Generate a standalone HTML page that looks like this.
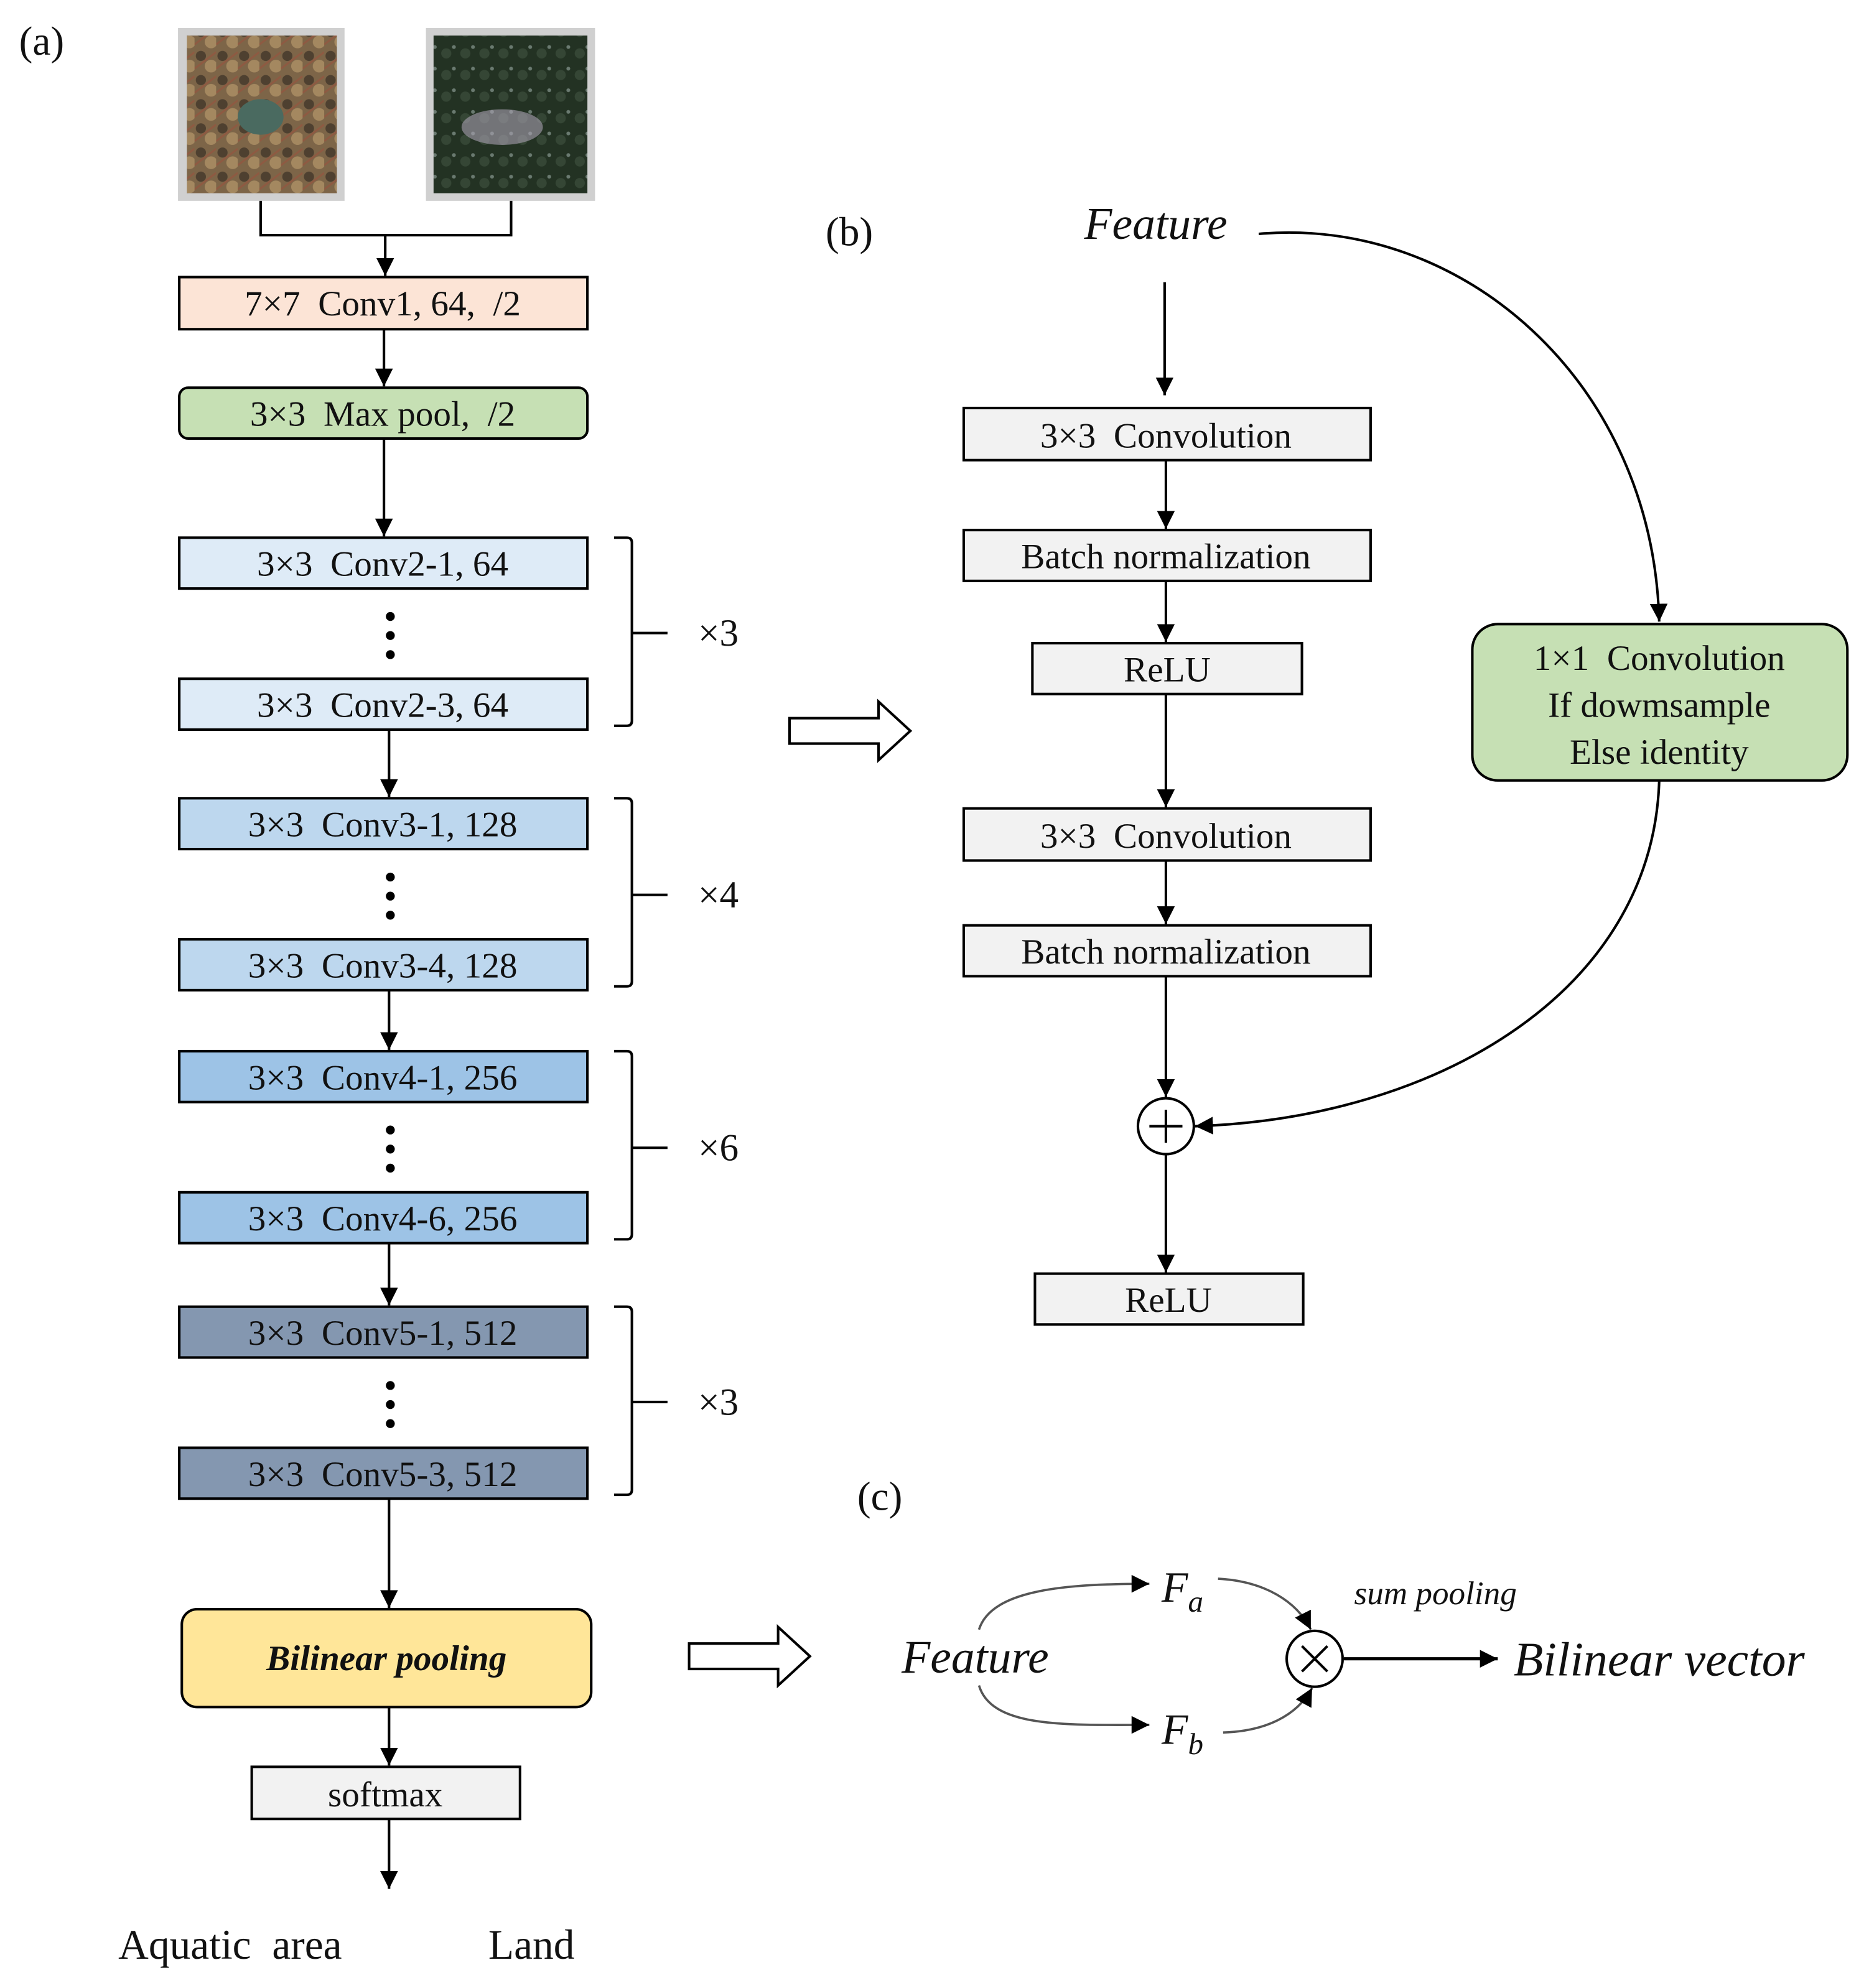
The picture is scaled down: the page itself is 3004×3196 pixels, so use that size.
<!DOCTYPE html>
<html><head><meta charset="utf-8"><style>
html,body{margin:0;padding:0;background:#fff;}
svg{display:block;}
text{font-family:"Liberation Serif",serif;fill:#111;white-space:pre;}
</style></head><body>
<svg width="3004" height="3196" viewBox="0 0 1470 1564" preserveAspectRatio="none" xmlns="http://www.w3.org/2000/svg">
<defs>
<marker id="a2" viewBox="0 0 10 10" refX="10" refY="5" markerWidth="14" markerHeight="14" markerUnits="userSpaceOnUse" orient="auto"><path d="M0,0 L10,5 L0,10 z" fill="#000"/></marker>
<pattern id="p1" width="17" height="19" patternUnits="userSpaceOnUse"><rect width="17" height="19" fill="#7d6548"/><circle cx="5" cy="6" r="4" fill="#4e4030"/><circle cx="13" cy="14" r="5" fill="#a48860"/><path d="M0,16 L17,3" stroke="#8e5a42" stroke-width="1.5"/></pattern>
<pattern id="p2" width="15" height="17" patternUnits="userSpaceOnUse"><rect width="15" height="17" fill="#233223"/><circle cx="6" cy="8" r="4" fill="#354635"/><circle cx="12" cy="3" r="1.5" fill="#6a7a70"/></pattern>
</defs>
<g stroke="#000" stroke-width="2" fill="none">
<rect x="140" y="22" width="131" height="136" fill="#d0d0d0" stroke="none"/>
<rect x="147" y="28" width="118" height="124" fill="url(#p1)" stroke="none"/>
<ellipse cx="205" cy="92" rx="18" ry="14" fill="#4a6a60" stroke="none"/>
<rect x="335" y="22" width="133" height="136" fill="#d0d0d0" stroke="none"/>
<rect x="341" y="28" width="121" height="124" fill="url(#p2)" stroke="none"/>
<ellipse cx="395" cy="100" rx="32" ry="14" fill="#a8a0b0" stroke="none" opacity="0.6"/>
<polyline points="205,158 205,185 402,185 402,158"/>
<line x1="303" y1="185" x2="303" y2="217" marker-end="url(#a2)"/>
<rect x="141" y="218" width="321" height="41" fill="#fce4d6"/>
<line x1="302" y1="259" x2="302" y2="304" marker-end="url(#a2)"/>
<rect x="141" y="305" width="321" height="40" rx="7" fill="#c6e0b4"/>
<line x1="302" y1="345" x2="302" y2="422" marker-end="url(#a2)"/>
<rect x="141" y="423" width="321" height="40" fill="#deebf7"/>
<rect x="141" y="534" width="321" height="40" fill="#deebf7"/>
<line x1="306" y1="574" x2="306" y2="627" marker-end="url(#a2)"/>
<rect x="141" y="628" width="321" height="40" fill="#bdd7ee"/>
<rect x="141" y="739" width="321" height="40" fill="#bdd7ee"/>
<line x1="306" y1="779" x2="306" y2="826" marker-end="url(#a2)"/>
<rect x="141" y="827" width="321" height="40" fill="#9dc3e6"/>
<rect x="141" y="938" width="321" height="40" fill="#9dc3e6"/>
<line x1="306" y1="978" x2="306" y2="1027" marker-end="url(#a2)"/>
<rect x="141" y="1028" width="321" height="40" fill="#8497b0"/>
<rect x="141" y="1139" width="321" height="40" fill="#8497b0"/>
<line x1="306" y1="1179" x2="306" y2="1265" marker-end="url(#a2)"/>
<rect x="143" y="1266" width="322" height="77" rx="12" fill="#ffe699"/>
<line x1="306" y1="1343" x2="306" y2="1389" marker-end="url(#a2)"/>
<rect x="198" y="1390" width="211" height="41" fill="#f2f2f2"/>
<line x1="306" y1="1431" x2="306" y2="1486" marker-end="url(#a2)"/>
<path d="M483,423 h10 q4,0 4,4 v140 q0,4 -4,4 h-10 M497,498 h28"/>
<path d="M483,628 h10 q4,0 4,4 v140 q0,4 -4,4 h-10 M497,704 h28"/>
<path d="M483,827 h10 q4,0 4,4 v140 q0,4 -4,4 h-10 M497,903 h28"/>
<path d="M483,1028 h10 q4,0 4,4 v140 q0,4 -4,4 h-10 M497,1103 h28"/>
<path d="M621,565 h70 v-13 l25,23 l-25,23 v-13 h-70 z" stroke-width="2"/>
<path d="M542,1293 h70 v-13 l25,23 l-25,23 v-13 h-70 z" stroke-width="2"/>
<line x1="916" y1="222" x2="916" y2="311" marker-end="url(#a2)"/>
<rect x="758" y="321" width="320" height="41" fill="#f2f2f2"/>
<line x1="917" y1="362" x2="917" y2="416" marker-end="url(#a2)"/>
<rect x="758" y="417" width="320" height="40" fill="#f2f2f2"/>
<line x1="917" y1="457" x2="917" y2="505" marker-end="url(#a2)"/>
<rect x="812" y="506" width="212" height="40" fill="#f2f2f2"/>
<line x1="917" y1="546" x2="917" y2="635" marker-end="url(#a2)"/>
<rect x="758" y="636" width="320" height="41" fill="#f2f2f2"/>
<line x1="917" y1="677" x2="917" y2="727" marker-end="url(#a2)"/>
<rect x="758" y="728" width="320" height="40" fill="#f2f2f2"/>
<line x1="917" y1="768" x2="917" y2="863" marker-end="url(#a2)"/>
<circle cx="917" cy="886" r="22"/>
<path d="M904,886 h26 M917,873 v26"/>
<line x1="917" y1="908" x2="917" y2="1001" marker-end="url(#a2)"/>
<rect x="814" y="1002" width="211" height="40" fill="#f2f2f2"/>
<path d="M990,184 C1150,170 1300,300 1305,489" marker-end="url(#a2)"/>
<rect x="1158" y="491" width="295" height="123" rx="20" fill="#c6e0b4"/>
<path d="M1305,614 C1300,780 1130,880 940,886" marker-end="url(#a2)"/>
<g stroke="#555" stroke-width="1.8">
<path d="M770,1282 C780,1250 840,1246 904,1246" marker-end="url(#a2)"/>
<path d="M770,1326 C780,1360 840,1357 904,1357" marker-end="url(#a2)"/>
<path d="M958,1242 C995,1244 1020,1260 1031,1282" marker-end="url(#a2)"/>
<path d="M962,1363 C995,1362 1020,1350 1032,1328" marker-end="url(#a2)"/>
</g>
<circle cx="1034" cy="1305" r="22"/>
<path d="M1024,1295 l20,20 M1044,1295 l-20,20"/>
<line x1="1057" y1="1305" x2="1178" y2="1305" stroke-width="2.5" marker-end="url(#a2)"/>
</g>
<g fill="#000">
<circle cx="307" cy="485" r="3.5"/><circle cx="307" cy="500" r="3.5"/><circle cx="307" cy="515" r="3.5"/>
<circle cx="307" cy="690" r="3.5"/><circle cx="307" cy="705" r="3.5"/><circle cx="307" cy="720" r="3.5"/>
<circle cx="307" cy="889" r="3.5"/><circle cx="307" cy="904" r="3.5"/><circle cx="307" cy="919" r="3.5"/>
<circle cx="307" cy="1090" r="3.5"/><circle cx="307" cy="1105" r="3.5"/><circle cx="307" cy="1120" r="3.5"/>
</g>
<g font-size="28" text-anchor="middle">
<text x="15" y="43" text-anchor="start" font-size="32">(a)</text>
<text x="301" y="248">7×7  Conv1, 64,  /2</text>
<text x="301" y="335">3×3  Max pool,  /2</text>
<text x="301" y="453">3×3  Conv2-1, 64</text>
<text x="301" y="564">3×3  Conv2-3, 64</text>
<text x="301" y="658">3×3  Conv3-1, 128</text>
<text x="301" y="769">3×3  Conv3-4, 128</text>
<text x="301" y="857">3×3  Conv4-1, 256</text>
<text x="301" y="968">3×3  Conv4-6, 256</text>
<text x="301" y="1058">3×3  Conv5-1, 512</text>
<text x="301" y="1169">3×3  Conv5-3, 512</text>
<text x="304" y="1314" font-weight="bold" font-style="italic">Bilinear pooling</text>
<text x="303" y="1421">softmax</text>
<text x="181" y="1541" font-size="33">Aquatic  area</text>
<text x="418" y="1541" font-size="33">Land</text>
<text x="565" y="508" font-size="30">×3</text>
<text x="565" y="714" font-size="30">×4</text>
<text x="565" y="913" font-size="30">×6</text>
<text x="565" y="1113" font-size="30">×3</text>
<text x="668" y="193" font-size="32">(b)</text>
<text x="909" y="188" font-size="36" font-style="italic">Feature</text>
<text x="917" y="352">3×3  Convolution</text>
<text x="917" y="447">Batch normalization</text>
<text x="918" y="536">ReLU</text>
<text x="917" y="667">3×3  Convolution</text>
<text x="917" y="758">Batch normalization</text>
<text x="919" y="1032">ReLU</text>
<text x="1305" y="527">1×1  Convolution</text>
<text x="1305" y="564">If dowmsample</text>
<text x="1305" y="601">Else identity</text>
<text x="692" y="1188" font-size="32">(c)</text>
<text x="767" y="1316" font-size="37" font-style="italic">Feature</text>
<text x="930" y="1260" font-size="34" font-style="italic">F<tspan font-size="24" dy="8">a</tspan></text>
<text x="930" y="1372" font-size="34" font-style="italic">F<tspan font-size="24" dy="8">b</tspan></text>
<text x="1129" y="1262" font-size="26" font-style="italic">sum pooling</text>
<text x="1305" y="1318" font-size="38" font-style="italic">Bilinear vector</text>
</g>
</svg>
</body></html>
